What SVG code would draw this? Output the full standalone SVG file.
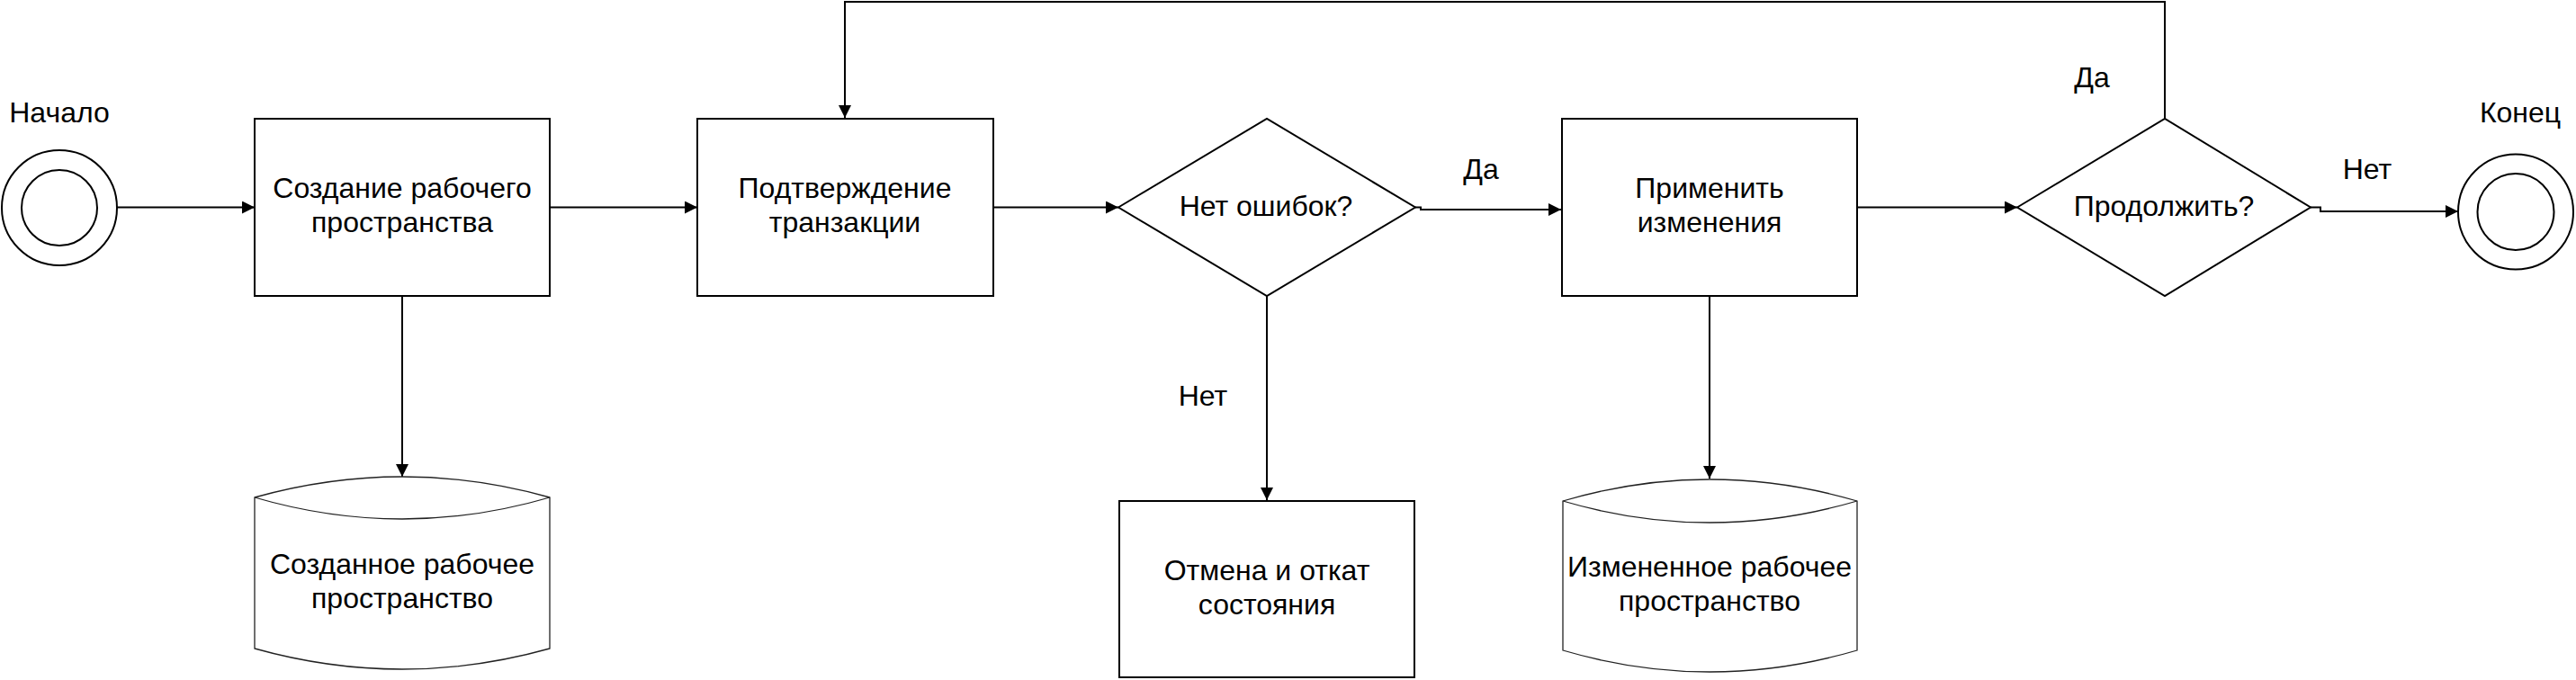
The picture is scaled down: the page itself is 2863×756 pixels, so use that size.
<svg xmlns="http://www.w3.org/2000/svg" width="2863" height="756" viewBox="0 0 2863 756">
<style>
.shape{fill:#fff;stroke:#000;stroke-width:2}
.store{fill:#fff;stroke:#222;stroke-width:1.3}
.edge{fill:none;stroke:#000;stroke-width:2}
text{font-family:"Liberation Sans",Arial,sans-serif;font-size:32px;fill:#000;text-anchor:middle}
</style>
<defs>
<marker id="arr" viewBox="0 0 14 14" refX="14" refY="7" markerWidth="14" markerHeight="14" markerUnits="userSpaceOnUse" orient="auto">
<path d="M0,0 L14,7 L0,14 Z" fill="#000"/>
</marker>
</defs>
<rect width="2863" height="756" fill="#fff"/>

<g id="connectors">
<path class="edge" d="M130,230.5 L283,230.5" marker-end="url(#arr)"/>
<path class="edge" d="M611,230.5 L775,230.5" marker-end="url(#arr)"/>
<path class="edge" d="M447,329 L447,530" marker-end="url(#arr)"/>
<path class="edge" d="M1104,230.5 L1243,230.5" marker-end="url(#arr)"/>
<path class="edge" d="M1573,230.5 L1579,230.5 L1579,233 L1735,233" marker-end="url(#arr)"/>
<path class="edge" d="M1408,329 L1408,556" marker-end="url(#arr)"/>
<path class="edge" d="M1900,329 L1900,532" marker-end="url(#arr)"/>
<path class="edge" d="M2064,230.5 L2242,230.5" marker-end="url(#arr)"/>
<path class="edge" d="M2406,132 L2406,2 L939,2 L939,131" marker-end="url(#arr)"/>
<path class="edge" d="M2568,230.5 L2579,230.5 L2579,235 L2732,235" marker-end="url(#arr)"/>
<text x="1646" y="199">Да</text>
<text x="1337" y="451">Нет</text>
<text x="2325" y="97">Да</text>
<text x="2631" y="199">Нет</text>
</g>

<g id="start">
<circle class="shape" cx="66" cy="231" r="64"/>
<circle class="shape" cx="66" cy="231" r="42"/>
<text x="66" y="136">Начало</text>
</g>

<g id="create">
<rect class="shape" x="283" y="132" width="328" height="197"/>
<text x="447" y="220">Создание рабочего</text>
<text x="447" y="258">пространства</text>
</g>

<g id="created-store">
<path class="store" d="M283,553 Q447,507 611,553 L611,721 Q447,767 283,721 Z"/>
<path class="store" d="M283,553 Q447,601 611,553" fill="none"/>
<text x="447" y="638">Созданное рабочее</text>
<text x="447" y="676">пространство</text>
</g>

<g id="confirm">
<rect class="shape" x="775" y="132" width="329" height="197"/>
<text x="939" y="220">Подтверждение</text>
<text x="939" y="258">транзакции</text>
</g>

<g id="no-errors">
<polygon class="shape" points="1243,230.5 1408,132 1573,230.5 1408,329"/>
<text x="1407" y="240">Нет ошибок?</text>
</g>

<g id="rollback">
<rect class="shape" x="1244" y="557" width="328" height="196"/>
<text x="1408" y="645">Отмена и откат</text>
<text x="1408" y="683">состояния</text>
</g>

<g id="apply">
<rect class="shape" x="1736" y="132" width="328" height="197"/>
<text x="1900" y="220">Применить</text>
<text x="1900" y="258">изменения</text>
</g>

<g id="changed-store">
<path class="store" d="M1737,557 Q1900,509 2064,557 L2064,723 Q1900,771 1737,723 Z"/>
<path class="store" d="M1737,557 Q1900,605 2064,557" fill="none"/>
<text x="1900" y="641">Измененное рабочее</text>
<text x="1900" y="679">пространство</text>
</g>

<g id="continue">
<polygon class="shape" points="2242,230.5 2406,132 2568,230.5 2406,329"/>
<text x="2405" y="240">Продолжить?</text>
</g>

<g id="end">
<circle class="shape" cx="2796" cy="235.5" r="64"/>
<circle class="shape" cx="2796" cy="235.5" r="42.5"/>
<text x="2801" y="136">Конец</text>
</g>
</svg>
